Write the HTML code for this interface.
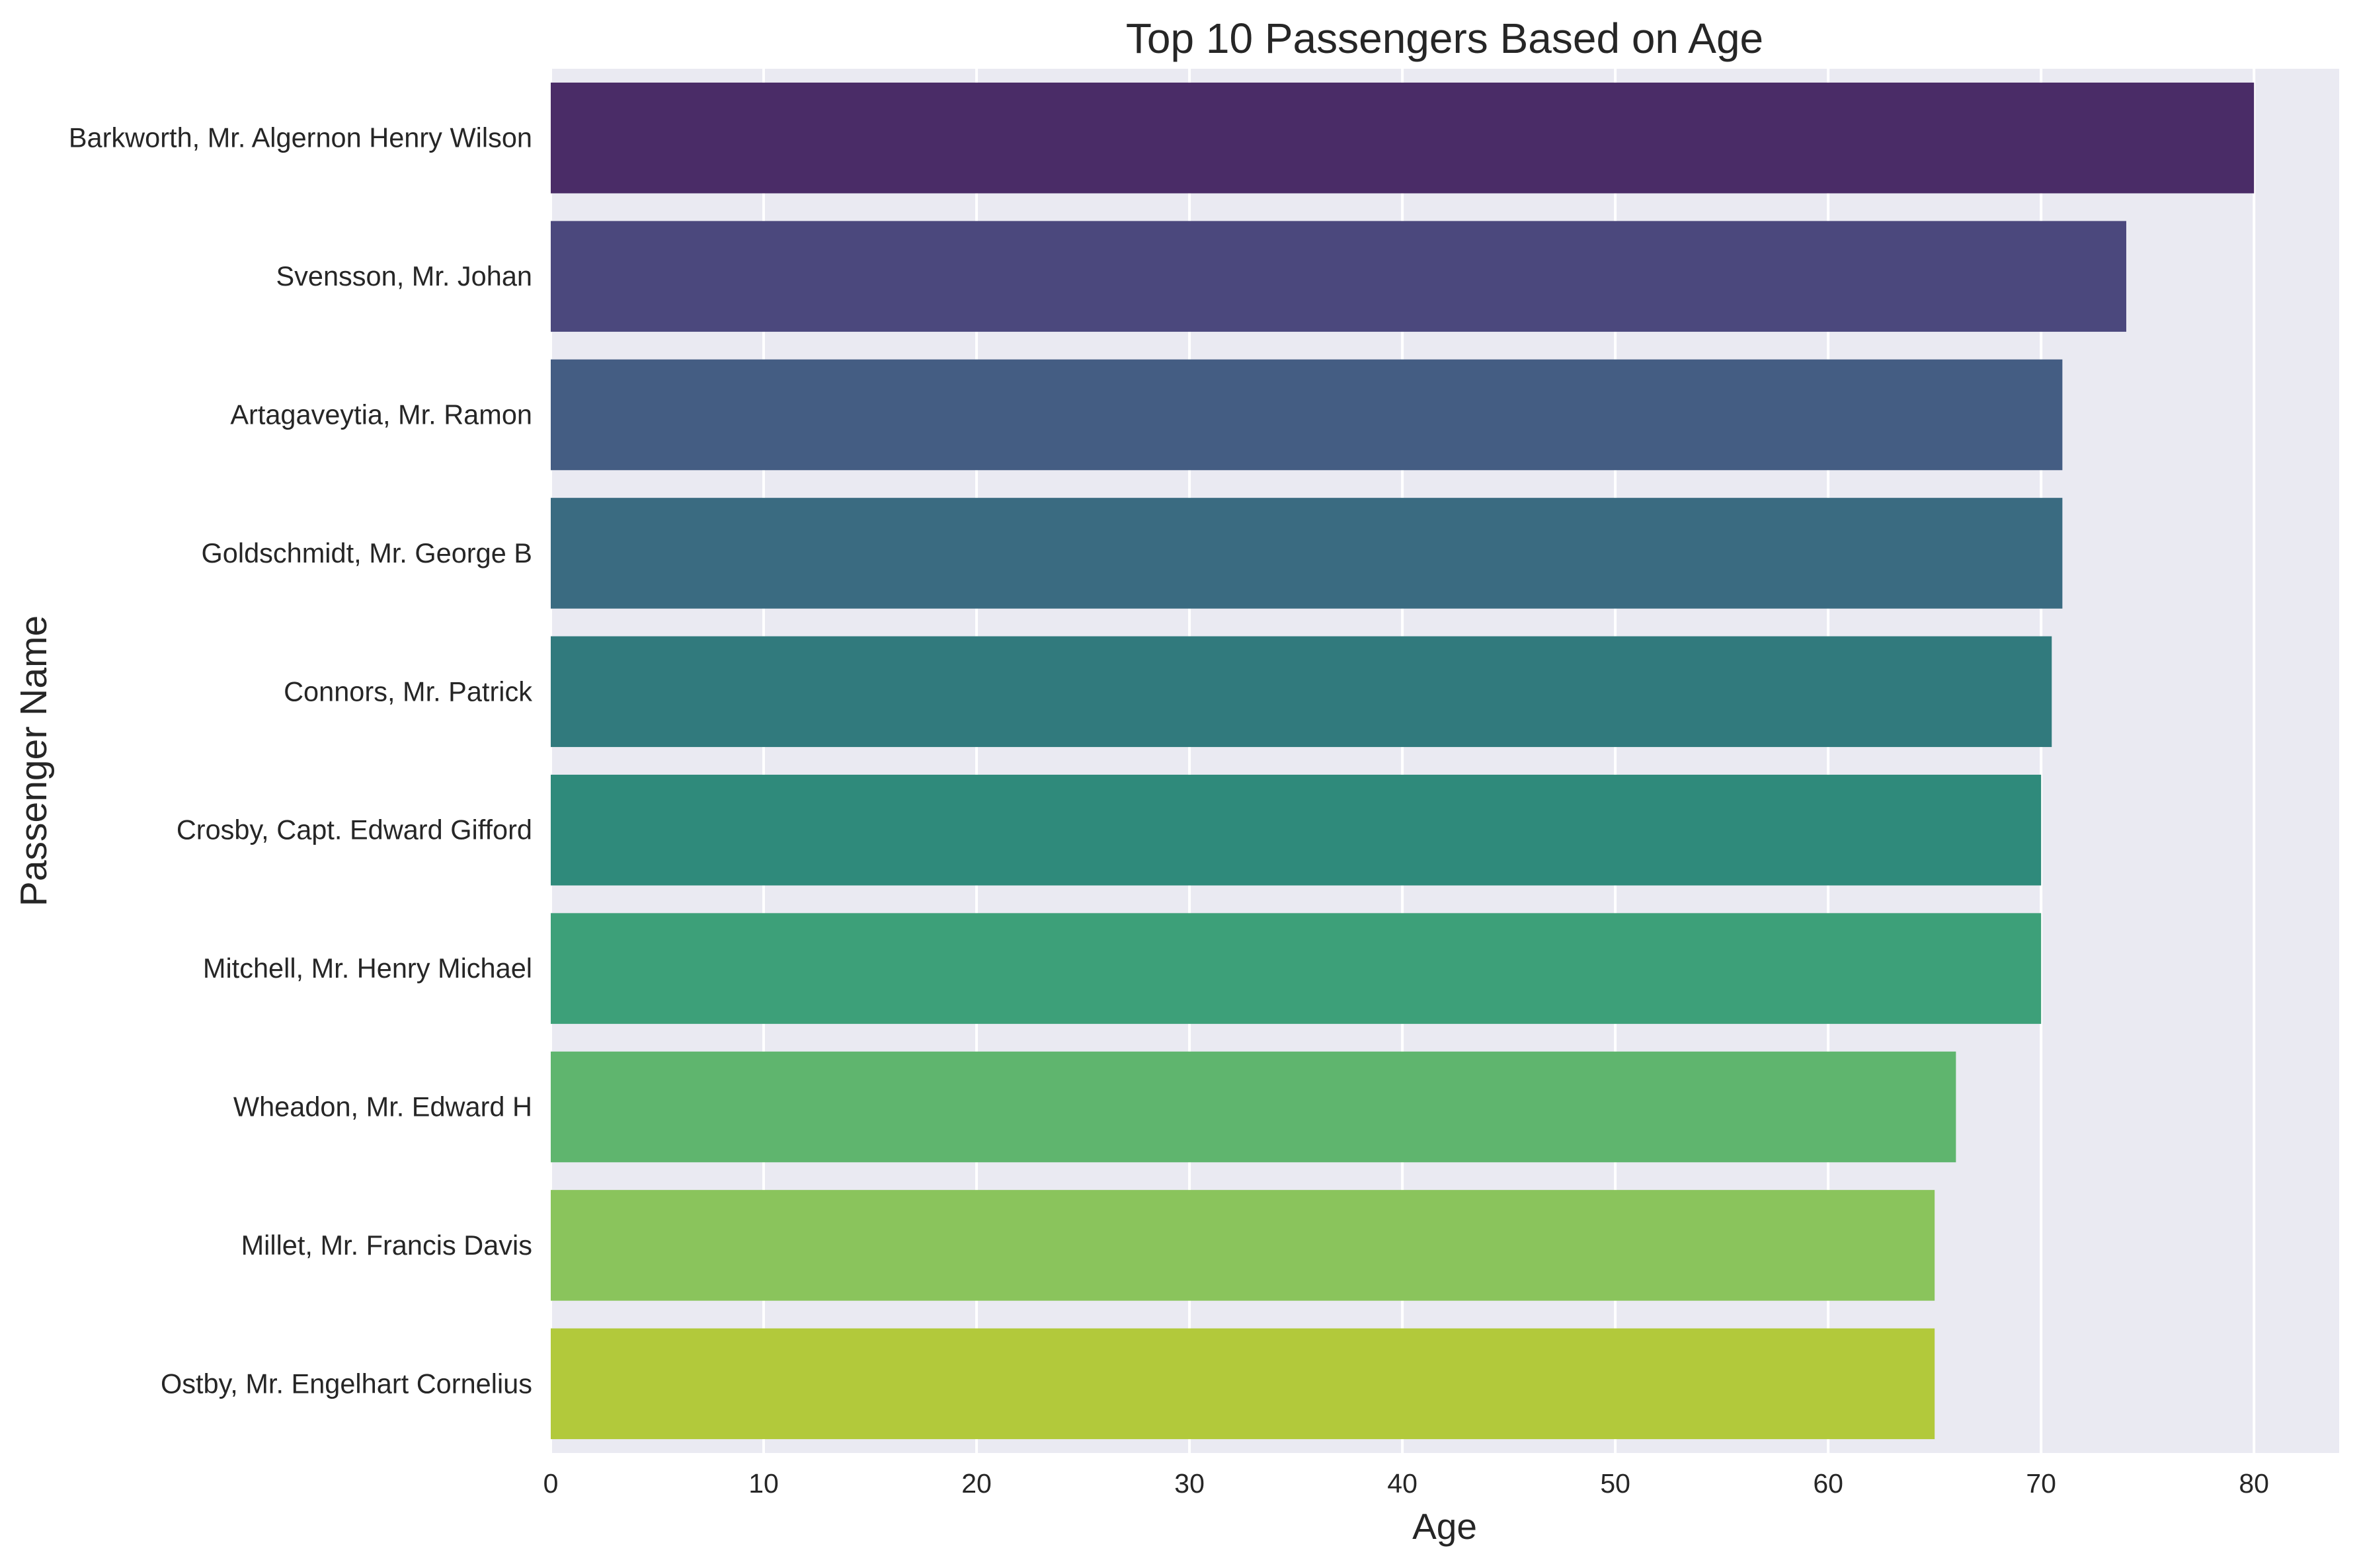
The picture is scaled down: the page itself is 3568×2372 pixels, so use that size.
<!DOCTYPE html>
<html><head><meta charset="utf-8"><style>
body{margin:0;background:#fff;}
svg text{font-family:"Liberation Sans",Arial,sans-serif;fill:#262626;}
</style></head><body>
<svg id="chart" width="3568" height="2367" xmlns="http://www.w3.org/2000/svg">
<rect x="0" y="0" width="3568" height="2367" fill="#fff"/>
<rect x="833" y="104" width="2705" height="2094" fill="#eaeaf2"/>
<g id="grid"></g>
<g id="bars"></g>
<g id="yticks"></g>
<g id="xticks"></g>
<text x="2185" y="80" font-size="64" text-anchor="middle">Top 10 Passengers Based on Age</text>
<text x="2185" y="2328" font-size="55" text-anchor="middle">Age</text>
<text x="0" y="0" font-size="57" text-anchor="middle" transform="translate(70,1151) rotate(-90)">Passenger Name</text>
</svg>
<script>
const names = ["Barkworth, Mr. Algernon Henry Wilson","Svensson, Mr. Johan","Artagaveytia, Mr. Ramon","Goldschmidt, Mr. George B","Connors, Mr. Patrick","Crosby, Capt. Edward Gifford","Mitchell, Mr. Henry Michael","Wheadon, Mr. Edward H","Millet, Mr. Francis Davis","Ostby, Mr. Engelhart Cornelius"];
const ages = [80, 74, 71, 71, 70.5, 70, 70, 66, 65, 65];
const xTicks = [0, 10, 20, 30, 40, 50, 60, 70, 80];
const colors = ["#4a2c67","#4b487d","#445d83","#3a6b81","#317a7d","#2f8a7b","#3da079","#5fb56e","#8ac45c","#b2c93b"];
const NS = "http://www.w3.org/2000/svg";
const L = 833, R = 3538, T = 104, B = 2198, XMAX = 84;
function xs(v){ return L + v / XMAX * (R - L); }
const band = (B - T) / names.length;
function yc(i){ return T + band * (i + 0.5); }
const grid = document.getElementById('grid'), bars = document.getElementById('bars'),
      yt = document.getElementById('yticks'), xt = document.getElementById('xticks');
xTicks.forEach(t => {
  const l = document.createElementNS(NS, 'line');
  l.setAttribute('x1', xs(t)); l.setAttribute('x2', xs(t));
  l.setAttribute('y1', T); l.setAttribute('y2', B);
  l.setAttribute('stroke', '#fff'); l.setAttribute('stroke-width', '4');
  
  
  grid.appendChild(l);
  const tx = document.createElementNS(NS, 'text');
  tx.setAttribute('x', xs(t)); tx.setAttribute('y', 2258);
  tx.setAttribute('font-size', '41'); tx.setAttribute('text-anchor', 'middle');
  tx.textContent = t;
  
  
  xt.appendChild(tx);
});
names.forEach((n, i) => {
  const r = document.createElementNS(NS, 'rect');
  const h = band * 0.8;
  r.setAttribute('x', xs(0)); r.setAttribute('y', yc(i) - h / 2);
  r.setAttribute('width', xs(ages[i]) - xs(0)); r.setAttribute('height', h);
  r.setAttribute('fill', colors[i]);
  
  
  bars.appendChild(r);
  const tx = document.createElementNS(NS, 'text');
  tx.setAttribute('x', 805); tx.setAttribute('y', yc(i) + 14);
  tx.setAttribute('font-size', '41.5'); tx.setAttribute('text-anchor', 'end');
  tx.textContent = n;
  
  
  yt.appendChild(tx);
});
</script>
</body></html>
